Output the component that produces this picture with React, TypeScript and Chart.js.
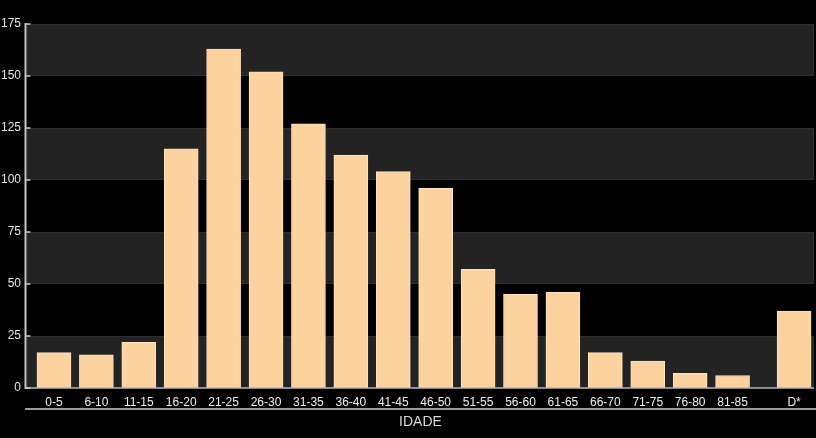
import React, { useEffect, useRef } from "react";
import { Chart, registerables } from "chart.js";

Chart.register(...registerables);

const categories = [
  "0-5", "6-10", "11-15", "16-20", "21-25", "26-30", "31-35", "36-40", "41-45",
  "46-50", "51-55", "56-60", "61-65", "66-70", "71-75", "76-80", "81-85", "D*",
];
const values = [17, 16, 22, 115, 163, 152, 127, 112, 104, 96, 57, 45, 46, 17, 13, 7, 6, 37];
const yTicks = [0, 25, 50, 75, 100, 125, 150, 175];
const axisTitle = "IDADE";
// D* is set apart from the age groups by a gap (in category slots)
const gapBeforeLast = 0.45;

const positions = categories.map((_, i) => (i === categories.length - 1 ? i + gapBeforeLast : i));

const FONT = "'Liberation Sans', Arial, sans-serif";

const decorPlugin = {
  id: "decor",
  beforeDatasetsDraw(chart: any) {
    const { ctx, chartArea, scales } = chart;
    const y = scales.y;
    ctx.save();
    for (let i = 0; i < yTicks.length - 1; i += 2) {
      const top = y.getPixelForValue(yTicks[i + 1]);
      const bot = y.getPixelForValue(yTicks[i]);
      ctx.fillStyle = "#222322";
      ctx.fillRect(chartArea.left, top, chartArea.right - chartArea.left, bot - top);
      ctx.strokeStyle = "#2e2e2e";
      ctx.lineWidth = 1;
      ctx.strokeRect(chartArea.left + 0.5, top + 0.5, chartArea.right - chartArea.left - 1, bot - top - 1);
    }
    ctx.restore();
  },
  afterDatasetsDraw(chart: any) {
    const { ctx, chartArea, scales, width } = chart;
    const y = scales.y;
    ctx.save();
    const y0 = y.getPixelForValue(0);
    ctx.strokeStyle = "#b4b4b4";
    ctx.lineWidth = 1.5;
    ctx.beginPath();
    ctx.moveTo(chartArea.left - 2, y0);
    ctx.lineTo(chartArea.right, y0);
    ctx.stroke();
    const ax = chartArea.left - 1.5;
    ctx.strokeStyle = "#c8c8c8";
    ctx.lineWidth = 2;
    ctx.beginPath();
    ctx.moveTo(ax, y.getPixelForValue(yTicks[yTicks.length - 1]) - 1);
    ctx.lineTo(ax, y0 + 1);
    ctx.stroke();
    ctx.lineWidth = 1.5;
    yTicks.forEach((v) => {
      const py = y.getPixelForValue(v);
      ctx.beginPath();
      ctx.moveTo(ax, py);
      ctx.lineTo(ax + 5, py);
      ctx.stroke();
    });
    ctx.strokeStyle = "#9a9a9a";
    ctx.lineWidth = 2;
    ctx.beginPath();
    ctx.moveTo(chartArea.left - 2, 409);
    ctx.lineTo(width, 409);
    ctx.stroke();
    ctx.fillStyle = "#d8d8d8";
    ctx.font = `14px ${FONT}`;
    ctx.textAlign = "center";
    ctx.textBaseline = "middle";
    ctx.fillText(axisTitle, (chartArea.left + chartArea.right) / 2, 422);
    ctx.restore();
  },
};

export default function App() {
  const ref = useRef<HTMLCanvasElement>(null);
  useEffect(() => {
    document.body.style.margin = "0";
    document.body.style.background = "#000";
    const chart = new Chart(ref.current!, {
      type: "bar",
      data: {
        datasets: [
          {
            data: positions.map((x, i) => ({ x, y: values[i] })),
            backgroundColor: "#fcd29f",
            borderColor: "#ffe3bd",
            borderWidth: 1,
            barThickness: 34,
          },
        ],
      },
      options: {
        animation: false,
        responsive: false,
        maintainAspectRatio: false,
        layout: { padding: { top: 24, right: 2, left: 0, bottom: 0 } },
        plugins: { legend: { display: false }, tooltip: { enabled: false } },
        scales: {
          x: {
            type: "linear",
            offset: false,
            min: -0.636,
            max: 17.92,
            grid: { display: false, drawTicks: false, offset: false },
            border: { display: false },
            afterFit: (s: any) => {
              s.height = 50;
            },
            afterBuildTicks: (s: any) => {
              s.ticks = positions.map((v) => ({ value: v }));
            },
            ticks: {
              autoSkip: false,
              maxRotation: 0,
              padding: 7,
              color: "#f0f0f0",
              font: { family: FONT, size: 12 },
              callback: (v: any) => {
                const i = positions.indexOf(Number(v));
                return i >= 0 ? categories[i] : "";
              },
            },
          },
          y: {
            min: 0,
            max: 175,
            grid: { display: false, drawTicks: false },
            border: { display: false },
            afterFit: (s: any) => {
              s.width = 27;
            },
            afterBuildTicks: (s: any) => {
              s.ticks = yTicks.map((v) => ({ value: v }));
            },
            ticks: {
              padding: 6,
              color: "#e6e6e6",
              font: { family: FONT, size: 12 },
            },
          },
        },
      },
      plugins: [decorPlugin],
    } as any);
    return () => chart.destroy();
  }, []);
  return (
    <div style={{ width: 816, height: 438, background: "#000" }}>
      <canvas ref={ref} width={816} height={438} style={{ display: "block" }} />
    </div>
  );
}
